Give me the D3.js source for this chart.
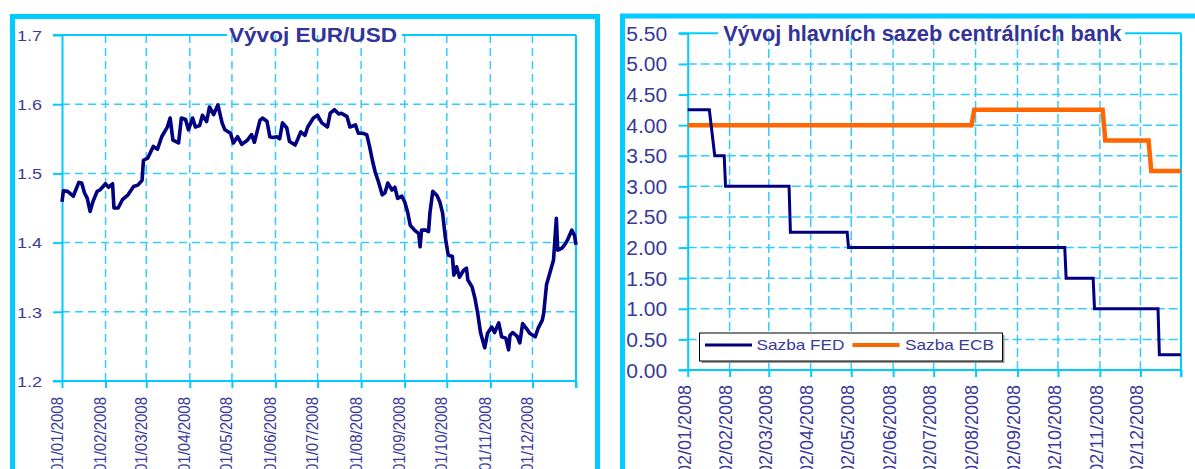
<!DOCTYPE html>
<html>
<head>
<meta charset="utf-8">
<script src="https://cdn.jsdelivr.net/npm/d3@7"></script>
<style>
  body { margin: 0; background: #fff; }
  svg { display: block; font-family: Arial, "Liberation Sans", sans-serif; }
</style>
</head>
<body>
<svg id="chart" width="1195" height="469"></svg>
<script>
// EUR/USD, day = days since 1 Jan 2008
const eurDay = [0,1,4,8,12,14,16,18,20,22,25,27,31,33,36,37,40,43,47,51,54,57,58,61,65,68,71,75,77,79,83,85,88,90,93,95,98,100,103,105,108,111,114,116,120,122,125,128,132,135,137,141,143,146,148,150,153,155,157,160,162,166,168,170,173,175,179,182,185,189,191,194,197,199,203,205,209,211,214,217,219,221,223,225,228,230,232,235,237,239,242,244,246,248,251,254,255,256,259,261,262,264,267,269,271,273,275,278,279,281,283,286,288,289,292,294,296,298,301,303,306,308,311,313,316,318,319,321,324,326,328,331,333,337,339,342,343,345,350,352,353,356,358,360,363,365,366];
const eurRate = [1.459,1.475,1.474,1.467,1.487,1.486,1.472,1.464,1.445,1.459,1.474,1.476,1.485,1.480,1.485,1.450,1.450,1.462,1.469,1.481,1.483,1.490,1.519,1.522,1.539,1.535,1.553,1.567,1.580,1.548,1.544,1.580,1.578,1.563,1.580,1.567,1.569,1.584,1.575,1.596,1.585,1.599,1.573,1.563,1.558,1.544,1.553,1.542,1.548,1.556,1.545,1.577,1.580,1.575,1.553,1.552,1.553,1.550,1.573,1.566,1.546,1.541,1.550,1.560,1.555,1.567,1.580,1.584,1.573,1.567,1.587,1.592,1.586,1.587,1.582,1.567,1.570,1.558,1.558,1.556,1.539,1.519,1.502,1.490,1.469,1.472,1.486,1.476,1.480,1.464,1.467,1.459,1.445,1.425,1.418,1.413,1.394,1.418,1.418,1.416,1.443,1.474,1.468,1.459,1.443,1.407,1.382,1.380,1.353,1.365,1.350,1.360,1.363,1.346,1.336,1.320,1.298,1.270,1.248,1.269,1.278,1.270,1.284,1.264,1.262,1.245,1.266,1.270,1.265,1.255,1.283,1.275,1.269,1.264,1.276,1.288,1.298,1.339,1.375,1.435,1.389,1.392,1.397,1.404,1.418,1.410,1.397];
const eurXTicks = ["01/01/2008","01/02/2008","01/03/2008","01/04/2008","01/05/2008","01/06/2008","01/07/2008","01/08/2008","01/09/2008","01/10/2008","01/11/2008","01/12/2008"];
const eurYTicks = [1.2, 1.3, 1.4, 1.5, 1.6, 1.7];

// central bank rates (step points)
const fedDates = ["2008-01-02","2008-01-18","2008-01-22","2008-01-29","2008-01-30","2008-03-17","2008-03-18","2008-04-29","2008-04-30","2008-10-07","2008-10-08","2008-10-28","2008-10-29","2008-12-15","2008-12-16","2009-01-01"];
const fedRate = [4.25,4.25,3.50,3.50,3.00,3.00,2.25,2.25,2.00,2.00,1.50,1.50,1.00,1.00,0.25,0.25];
const ecbDates = ["2008-01-02","2008-07-30","2008-08-01","2008-11-04","2008-11-06","2008-12-08","2008-12-10","2009-01-01"];
const ecbRate = [4.00,4.00,4.25,4.25,3.75,3.75,3.25,3.25];
const rateXTicks = ["02/01/2008","02/02/2008","02/03/2008","02/04/2008","02/05/2008","02/06/2008","02/07/2008","02/08/2008","02/09/2008","02/10/2008","02/11/2008","02/12/2008"];
const rateYTicks = [0, 0.5, 1, 1.5, 2, 2.5, 3, 3.5, 4, 4.5, 5, 5.5];
const seriesNames = ["Sazba FED", "Sazba ECB"];

const cyan = "#00CCFF", grid = "#33CCFF", navy = "#000080", orange = "#FF6600", textCol = "#3A3A9A";
const svg = d3.select("#chart");
const parseIso = d3.timeParse("%Y-%m-%d"), parseDmy = d3.timeParse("%d/%m/%Y");
const fmtDmy = d3.timeFormat("%d/%m/%Y");

// outer frames
svg.append("rect").attr("x", 12.5).attr("y", 16.5).attr("width", 585).attr("height", 520)
  .attr("fill", "none").attr("stroke", cyan).attr("stroke-width", 5);
svg.append("rect").attr("x", 622.5).attr("y", 16).attr("width", 600).attr("height", 520)
  .attr("fill", "none").attr("stroke", cyan).attr("stroke-width", 5);

function drawPanel (o) {
  const g = svg.append("g");
  const x = o.x, y = o.y;
  const [x0, x1] = x.range(), [yb, yt] = y.range();

  // grid
  g.selectAll(".hgrid").data(o.yTicks.slice(1, -1)).enter().append("line")
    .attr("x1", x0).attr("x2", x1).attr("y1", d => y(d)).attr("y2", d => y(d))
    .attr("stroke", grid).attr("stroke-width", 1.5).attr("stroke-dasharray", o.dash);
  g.selectAll(".vgrid").data(o.xTicks.slice(1)).enter().append("line")
    .attr("x1", d => x(d)).attr("x2", d => x(d)).attr("y1", yb).attr("y2", yt)
    .attr("stroke", grid).attr("stroke-width", 1.5).attr("stroke-dasharray", o.dash);

  // frame of plot area, top line broken by title
  const fr = g.append("g").attr("stroke", cyan).attr("stroke-width", 2);
  fr.append("line").attr("x1", x0 - o.tick).attr("x2", o.gap[0]).attr("y1", yt).attr("y2", yt);
  fr.append("line").attr("x1", o.gap[1]).attr("x2", x1).attr("y1", yt).attr("y2", yt);
  fr.append("line").attr("x1", x1).attr("x2", x1).attr("y1", yt).attr("y2", yb + o.tick - 2);

  const yAxis = g.append("g").attr("transform", "translate(" + x0 + ",0)")
    .call(d3.axisLeft(y).tickValues(o.yTicks).tickSize(o.tick).tickSizeOuter(0)
      .tickPadding(o.yPad).tickFormat(d3.format(o.yFmt)));
  yAxis.selectAll("line").attr("stroke", cyan).attr("stroke-width", 2);
  yAxis.select(".domain").attr("stroke", cyan).attr("stroke-width", 2);
  yAxis.selectAll("text").attr("fill", textCol).style("font-size", o.yFont + "px")
    .attr("textLength", o.yLen).attr("lengthAdjust", "spacingAndGlyphs").attr("dy", "0.35em");

  const xAxis = g.append("g").attr("transform", "translate(0," + yb + ")")
    .call(d3.axisBottom(x).tickValues(o.xTicks.concat([x.domain()[1]])).tickSize(o.tick - 2).tickSizeOuter(0)
      .tickFormat(d => d < x.domain()[1] ? fmtDmy(d).replace(/^\d\d/, o.dayLabel) : ""));
  xAxis.selectAll("line").attr("stroke", cyan).attr("stroke-width", 2);
  xAxis.select(".domain").attr("stroke", cyan).attr("stroke-width", 2)
    .attr("d", "M" + (x0 - o.tick) + ",0H" + x1);
  xAxis.selectAll("text").attr("fill", textCol).style("font-size", o.xFont + "px")
    .attr("text-anchor", "end").attr("x", -o.xOff).attr("y", o.xBase).attr("dy", 0)
    .attr("transform", "rotate(-90) scale(1," + o.xStretch + ")");

  // title
  g.append("text").attr("x", o.title[1]).attr("y", o.title[2])
    .attr("fill", "#333399").style("font-weight", "bold").style("font-size", o.title[3] + "px")
    .attr("textLength", o.title[4]).attr("lengthAdjust", "spacingAndGlyphs")
    .text(o.title[0]);
  return g;
}

// ---- EUR/USD
const start = parseIso("2008-01-01");
const xEur = d3.scaleTime().domain([start, parseIso("2009-01-01")]).range([62, 576]);
const yEur = d3.scaleLinear().domain([1.2, 1.7]).range([381, 35]);
const left = drawPanel({
  x: xEur, y: yEur, xTicks: eurXTicks.map(parseDmy), yTicks: eurYTicks,
  dash: "8,5", tick: 9, yPad: 11, yFmt: ".1f", yFont: 15, yLen: 25,
  xFont: 15, xOff: 16, xBase: 0, xStretch: 1.1, dayLabel: "01",
  gap: [227, 402], title: ["Vývoj EUR/USD", 229, 41.5, 20, 168]
});
const eurLine = d3.line()
  .x(d => xEur(d3.timeDay.offset(start, d[0])))
  .y(d => yEur(d[1]));
left.append("path").datum(eurDay.map((d, i) => [d, eurRate[i]]))
  .attr("d", eurLine).attr("fill", "none").attr("stroke", navy)
  .attr("stroke-width", 3.6).attr("stroke-linejoin", "round");

// ---- central bank rates
const xRate = d3.scaleTime().domain([parseIso("2008-01-02"), parseIso("2009-01-01")]).range([687.7, 1181]);
const yRate = d3.scaleLinear().domain([0, 5.5]).range([370, 33.3]);
const right = drawPanel({
  x: xRate, y: yRate, xTicks: rateXTicks.map(parseDmy), yTicks: rateYTicks,
  dash: "9,4", tick: 9, yPad: 11.4, yFmt: ".2f", yFont: 20, yLen: 41,
  xFont: 18, xOff: 15, xBase: 2.3, xStretch: 1, dayLabel: "02",
  gap: [718, 1125], title: ["Vývoj hlavních sazeb centrálních bank", 723.3, 40.7, 22, 398]
});
const rateLine = d3.line().x(d => xRate(parseIso(d[0]))).y(d => yRate(d[1]));
right.append("path").datum(ecbDates.map((d, i) => [d, ecbRate[i]]))
  .attr("d", rateLine).attr("fill", "none").attr("stroke", orange).attr("stroke-width", 4.5);
right.append("path").datum(fedDates.map((d, i) => [d, fedRate[i]]))
  .attr("d", rateLine).attr("fill", "none").attr("stroke", navy).attr("stroke-width", 3);

// legend
const lg = right.append("g").attr("transform", "translate(699.5,333)");
lg.append("rect").attr("x", 2).attr("y", 2).attr("width", 303).attr("height", 28).attr("fill", "#999");
lg.append("rect").attr("width", 303).attr("height", 28).attr("fill", "#fff").attr("stroke", "#000").attr("stroke-width", 1);
const items = [
  { name: seriesNames[0], color: navy, w: 3, lx: 5.5, tx: 57, len: 88 },
  { name: seriesNames[1], color: orange, w: 4, lx: 153, tx: 205.5, len: 89 }
];
items.forEach(it => {
  lg.append("line").attr("x1", it.lx).attr("x2", it.lx + 47).attr("y1", 12).attr("y2", 12)
    .attr("stroke", it.color).attr("stroke-width", it.w);
  lg.append("text").attr("x", it.tx).attr("y", 17).attr("fill", textCol)
    .style("font-size", "15px").attr("textLength", it.len).attr("lengthAdjust", "spacingAndGlyphs")
    .text(it.name);
});
</script>
</body>
</html>
